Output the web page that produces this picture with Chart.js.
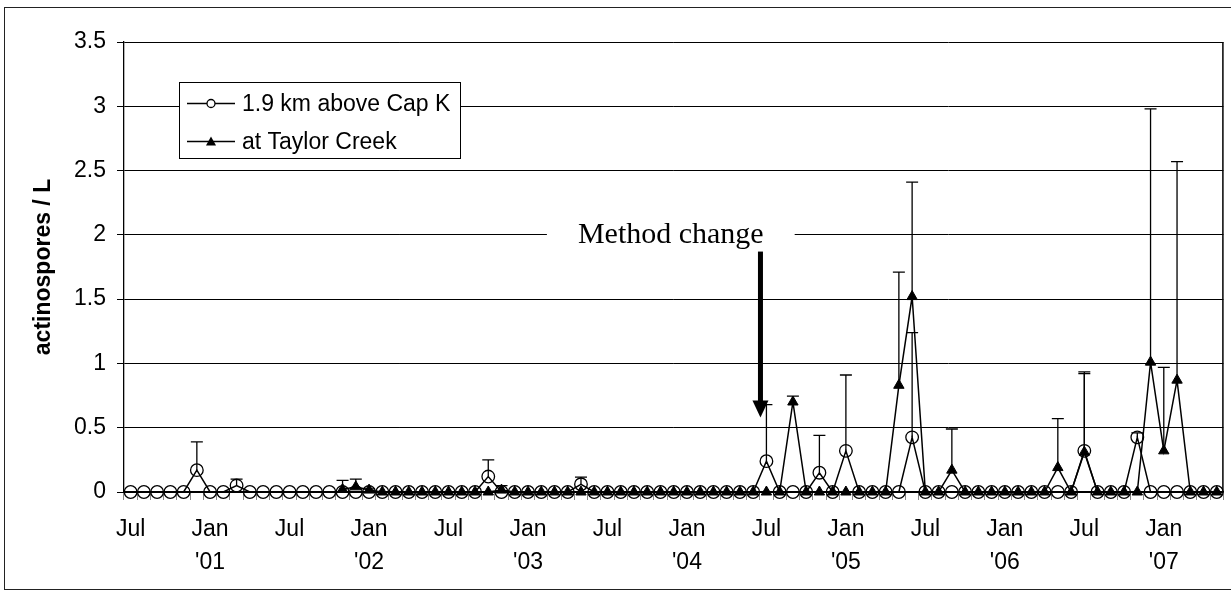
<!DOCTYPE html>
<html>
<head>
<meta charset="utf-8">
<script src="https://cdn.jsdelivr.net/npm/chart.js@4.4.1/dist/chart.umd.min.js"></script>
<style>
  html, body { margin: 0; padding: 0; background: #ffffff; }
  #wrap { position: relative; width: 1231px; height: 596px; }
  canvas { display: block; }
</style>
</head>
<body>
<div id="wrap"><canvas id="c" width="1231" height="596"></canvas></div>
<script>
// ---- Data (monthly, Jul 2000 – May 2007) ----
const categories = [
  '2000-07','2000-08','2000-09','2000-10','2000-11','2000-12',
  '2001-01','2001-02','2001-03','2001-04','2001-05','2001-06','2001-07','2001-08','2001-09','2001-10','2001-11','2001-12',
  '2002-01','2002-02','2002-03','2002-04','2002-05','2002-06','2002-07','2002-08','2002-09','2002-10','2002-11','2002-12',
  '2003-01','2003-02','2003-03','2003-04','2003-05','2003-06','2003-07','2003-08','2003-09','2003-10','2003-11','2003-12',
  '2004-01','2004-02','2004-03','2004-04','2004-05','2004-06','2004-07','2004-08','2004-09','2004-10','2004-11','2004-12',
  '2005-01','2005-02','2005-03','2005-04','2005-05','2005-06','2005-07','2005-08','2005-09','2005-10','2005-11','2005-12',
  '2006-01','2006-02','2006-03','2006-04','2006-05','2006-06','2006-07','2006-08','2006-09','2006-10','2006-11','2006-12',
  '2007-01','2007-02','2007-03','2007-04','2007-05'
];

// 1.9 km above Cap K (open circles)
const capK = [
  0,0,0,0,0,0.17,
  0,0,0.05,0,0,0,0,0,0,0,0,0,
  0,0,0,0,0,0,0,0,0,0.12,0,0,
  0,0,0,0,0.06,0,0,0,0,0,0,0,
  0,0,0,0,0,0,0.24,0,0,0,0.15,0,
  0.32,0,0,0,0,0.425,0,0,0,0,0,0,
  0,0,0,0,0,0,0.32,0,0,0,0.425,0,
  0,0,0,0,0
];
// upper error (plus) for Cap K
const capKErr = [
  null,null,null,null,null,0.22,
  null,null,0.05,null,null,null,null,null,null,null,null,null,
  null,null,null,null,null,null,null,null,null,0.13,null,null,
  null,null,null,null,0.055,null,null,null,null,null,null,null,
  null,null,null,null,null,null,0.44,null,null,null,0.29,null,
  0.59,null,null,null,null,0.815,null,null,null,null,null,null,
  null,null,null,null,null,null,0.615,null,null,null,0.035,null,
  null,null,null,null,null
];

// at Taylor Creek (filled triangles)
const taylor = [
  null,null,null,null,null,null,
  null,null,null,null,null,null,null,null,null,null,0.02,0.04,
  0.015,0,0,0,0,0,0,0,0,0,0.015,0,
  0,0,0,0,0,0,0,0,0,0,0,0,
  0,0,0,0,0,0,0,0,0.70,0,0,0,
  0,0,0,0,0.83,1.52,0,0,0.17,0,0,0,
  0,0,0,0,0.19,0,0.31,0,0,0,0,1.01,
  0.32,0.87,0,0,0
];
const taylorErr = [
  null,null,null,null,null,null,
  null,null,null,null,null,null,null,null,null,null,0.07,0.06,
  0.01,null,null,null,null,null,null,null,null,null,0.035,null,
  null,null,null,null,null,null,null,null,null,null,null,null,
  null,null,null,null,null,null,null,null,0.045,null,null,null,
  null,null,null,null,0.88,0.89,null,null,0.32,null,null,null,
  null,null,null,null,0.38,null,0.61,null,null,null,null,1.97,
  0.65,1.70,null,null,null
];

const seriesNames = ['1.9 km above Cap K', 'at Taylor Creek'];
const yTicks = [0, 0.5, 1, 1.5, 2, 2.5, 3, 3.5];
const monthNames = { '01': 'Jan', '07': 'Jul' };
const tickLabels = categories.map(c => {
  const [yy, mm] = c.split('-');
  if (mm === '01') return ['Jan', "'" + yy.slice(2)];
  if (mm === '07') return 'Jul';
  return '';
});
const annotationText = 'Method change';

// ---- Plugins ----
const FONT = '"Liberation Sans", Arial, sans-serif';

const errorBars = {
  id: 'errorBars',
  beforeDatasetsDraw(chart) {
    const ctx = chart.ctx, y = chart.scales.y;
    const errs = [capKErr, taylorErr];
    ctx.save();
    ctx.strokeStyle = '#000';
    ctx.lineWidth = 1.3;
    chart.data.datasets.forEach((ds, di) => {
      const meta = chart.getDatasetMeta(di);
      meta.data.forEach((pt, i) => {
        const e = errs[di][i];
        const v = ds.data[i];
        if (e == null || v == null) return;
        const x = pt.x, y0 = y.getPixelForValue(v), y1 = y.getPixelForValue(v + e);
        ctx.beginPath();
        ctx.moveTo(x, y0); ctx.lineTo(x, y1);
        ctx.moveTo(x - 6, y1); ctx.lineTo(x + 6, y1);
        ctx.stroke();
      });
    });
    ctx.restore();
  }
};

const decorations = {
  id: 'decorations',
  beforeDraw(chart) {
    const ctx = chart.ctx;
    ctx.save();
    ctx.fillStyle = '#fff';
    ctx.fillRect(0, 0, chart.width, chart.height);
    ctx.strokeStyle = '#222';
    ctx.lineWidth = 1;
    ctx.strokeRect(4.5, 7.5, 1240, 582);
    ctx.restore();
  },
  afterDraw(chart) {
    const ctx = chart.ctx, a = chart.chartArea, xs = chart.scales.x, ys = chart.scales.y;
    ctx.save();
    // plot area right border
    ctx.strokeStyle = '#000';
    ctx.lineWidth = 1.5;
    ctx.beginPath();
    ctx.moveTo(a.right - 0.5, a.top); ctx.lineTo(a.right - 0.5, a.bottom);
    ctx.stroke();

    // "Method change" label with white background
    const tx = xs.getPixelForValue(40.78), ty = ys.getPixelForValue(2);
    ctx.font = '30px "Liberation Serif", "Times New Roman", serif';
    const tw = ctx.measureText(annotationText).width;
    ctx.fillStyle = '#fff';
    ctx.fillRect(tx - tw / 2 - 31, ty - 14, tw + 62, 28);
    ctx.fillStyle = '#000';
    ctx.textAlign = 'center';
    ctx.textBaseline = 'middle';
    ctx.fillText(annotationText, tx, ty);

    // arrow
    const ax = xs.getPixelForValue(47.55);
    const aTop = ys.getPixelForValue(1.87), aTip = ys.getPixelForValue(0.58);
    ctx.fillStyle = '#000';
    ctx.fillRect(ax - 2.5, aTop, 5, (aTip - aTop) - 16);
    ctx.beginPath();
    ctx.moveTo(ax - 8, aTip - 17);
    ctx.lineTo(ax + 8, aTip - 17);
    ctx.lineTo(ax, aTip);
    ctx.closePath();
    ctx.fill();

    // legend
    const lx = 179.5, ly = 82.5, lw = 281, lh = 76;
    ctx.fillStyle = '#fff';
    ctx.fillRect(lx, ly, lw, lh);
    ctx.strokeStyle = '#000';
    ctx.lineWidth = 1;
    ctx.strokeRect(lx, ly, lw, lh);
    const rows = [103.5, 141.5];
    ctx.font = '23px ' + FONT;
    ctx.textAlign = 'left';
    ctx.textBaseline = 'middle';
    rows.forEach((ry, k) => {
      ctx.strokeStyle = '#000';
      ctx.lineWidth = 1.5;
      ctx.beginPath();
      ctx.moveTo(187, ry); ctx.lineTo(235, ry);
      ctx.stroke();
      if (k === 0) {
        ctx.fillStyle = '#fff';
        ctx.beginPath(); ctx.arc(211, ry, 4, 0, Math.PI * 2); ctx.fill();
        ctx.lineWidth = 1.3;
        ctx.stroke();
      } else {
        ctx.fillStyle = '#000';
        ctx.beginPath();
        ctx.moveTo(211, ry - 5); ctx.lineTo(216, ry + 4); ctx.lineTo(206, ry + 4);
        ctx.closePath(); ctx.fill();
      }
      ctx.fillStyle = '#000';
      ctx.fillText(seriesNames[k], 242, ry + 1);
    });
    ctx.restore();
  }
};

new Chart(document.getElementById('c'), {
  type: 'line',
  data: {
    labels: categories,
    datasets: [
      {
        label: seriesNames[0],
        data: capK,
        borderColor: '#000',
        borderWidth: 1.5,
        pointStyle: 'circle',
        pointRadius: 6.3,
        pointBorderWidth: 1.3,
        pointBorderColor: '#000',
        pointBackgroundColor: 'rgba(0,0,0,0)',
        tension: 0,
        fill: false
      },
      {
        label: seriesNames[1],
        data: taylor,
        borderColor: '#000',
        borderWidth: 1.5,
        pointStyle: 'triangle',
        pointRadius: 6,
        pointBorderWidth: 1,
        pointBorderColor: '#000',
        pointBackgroundColor: '#000',
        tension: 0,
        fill: false
      }
    ]
  },
  options: {
    responsive: false,
    animation: false,
    clip: false,
    layout: { padding: { left: 20, top: 42, right: 3, bottom: 0 } },
    plugins: { legend: { display: false }, tooltip: { enabled: false } },
    scales: {
      x: {
        type: 'category',
        offset: true,
        afterFit(s) { s.height = 104; },
        grid: { display: true, offset: true, drawOnChartArea: false, drawTicks: true, tickLength: 8, color: '#888', lineWidth: 1 },
        border: { display: true, color: '#000', width: 1.3 },
        ticks: {
          autoSkip: false, maxRotation: 0, minRotation: 0,
          padding: 13,
          color: '#000',
          font: { family: FONT, size: 23, lineHeight: 1.43 },
          callback: (v, i) => tickLabels[i]
        }
      },
      y: {
        min: 0, max: 3.5,
        afterFit(s) { s.width = 104; },
        afterBuildTicks(s) { s.ticks = yTicks.map(v => ({ value: v })); },
        grid: { color: '#000', lineWidth: 1, tickLength: 7 },
        border: { display: true, color: '#000', width: 1.3 },
        ticks: {
          padding: 11,
          color: '#000',
          font: { family: FONT, size: 23 },
          callback: v => String(v)
        },
        title: {
          display: true,
          text: 'actinospores / L',
          color: '#000',
          font: { family: FONT, size: 23, weight: 'bold' },
          padding: { top: 10, bottom: 0 }
        }
      }
    }
  },
  plugins: [decorations, errorBars]
});
</script>
</body>
</html>
